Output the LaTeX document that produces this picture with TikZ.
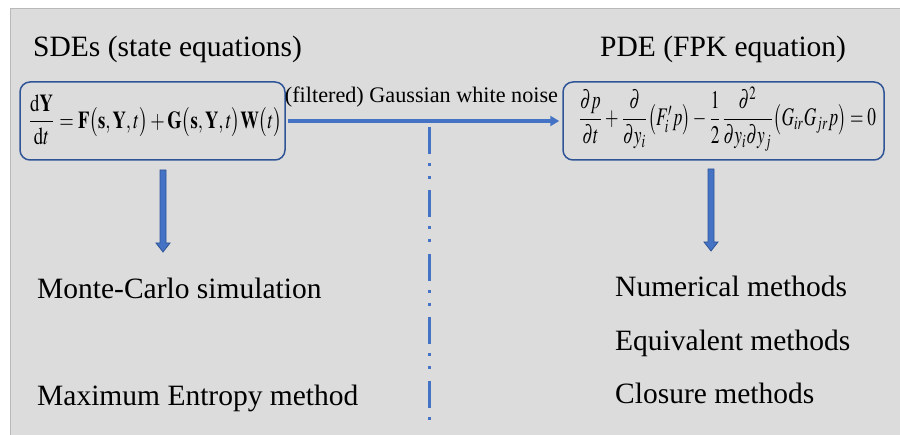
\documentclass[tikz,border=0pt]{standalone}
\usepackage{amsmath}
\usepackage{mathptmx}
\usepackage[no-math]{fontspec}
\setmainfont{Liberation Serif}
\usetikzlibrary{arrows.meta,calc}
\definecolor{bg}{RGB}{220,220,220}
\definecolor{framegray}{RGB}{185,185,185}
\definecolor{boxblue}{RGB}{47,85,151}
\definecolor{arrblue}{RGB}{68,114,196}
\newcommand\dnblk[2]{%
  \filldraw[fill=arrblue,draw=boxblue,line width=0.8pt,line join=miter]
    ($(#1)+(-3,0)$) -- ($(#2)+(-3,-9)$) -- ($(#2)+(-7,-9)$) -- (#2) --
    ($(#2)+(7,-9)$) -- ($(#2)+(3,-9)$) -- ($(#1)+(3,0)$) -- cycle;}
\begin{document}
\begin{tikzpicture}[x=1pt,y=-1pt,
  eqbox/.style={draw=boxblue,line width=1.5pt,rounded corners=10pt,minimum height=78pt,inner sep=0pt},
  big/.style={font=\fontsize{29.5}{32}\selectfont,anchor=base west,inner sep=0pt},
  small/.style={font=\fontsize{22.2}{25}\selectfont,anchor=base,inner sep=0pt},
  harr/.style={draw=arrblue,line width=3.5pt,-{Triangle[length=9pt,width=10pt]},shorten <=2pt,shorten >=3pt},
  sep/.style={draw=arrblue,line width=3pt,dash pattern=on 27pt off 9pt on 3pt off 10pt on 3pt off 11.5pt}]
\useasboundingbox (0,0) rectangle (900,435);
\fill[bg] (10,9) rectangle (900,435);
\draw[framegray,line width=1pt] (10,435) -- (10,9) -- (900,9);

\node[big] (t1) at (33,57) {SDEs (state equations)};
\node[big] (t2) at (600,57) {PDE (FPK equation)};

\node[eqbox,minimum width=265pt] (sde) at (152.5,121) {};
\node[eqbox,minimum width=321pt] (pde) at (723.5,121) {};
\node[inner sep=0pt] (sdeq) at (155,120) {\resizebox*{254pt}{50pt}{$\dfrac{\mathrm{d}\mathbf{Y}}{\mathrm{d}t}=\mathbf{F}\bigl(\mathbf{s},\mathbf{Y},t\bigr)+\mathbf{G}\bigl(\mathbf{s},\mathbf{Y},t\bigr)\mathbf{W}\bigl(t\bigr)$}};
\node[inner sep=0pt] (pdeq) at (727,119) {\resizebox*{298pt}{64pt}{$\dfrac{\partial p}{\partial t}+\dfrac{\partial}{\partial y_i}\bigl(F_i'p\bigr)-\dfrac{1}{2}\dfrac{\partial^2}{\partial y_i\partial y_j}\bigl(G_{ir}G_{jr}p\bigr)=0$}};

\draw[harr] (sde.east) -- (pde.west);
\node[small] (noise) at (421.5,103) {(filtered) Gaussian white noise};

\draw[sep] (429,127) -- (429,422);

\coordinate (la1) at (163,170);
\coordinate (la2) at (163,252);
\coordinate (ra1) at (711,169);
\coordinate (ra2) at (711,251);
\dnblk{la1}{la2}
\dnblk{ra1}{ra2}

\node[big] (mc) at (37,299) {Monte-Carlo simulation};
\node[big] (me) at (37,406) {Maximum Entropy method};
\node[big] (nm) at (615,297) {Numerical methods};
\node[big] (em) at (615,351) {Equivalent methods};
\node[big] (cm) at (615,404) {Closure methods};
\end{tikzpicture}
\end{document}
